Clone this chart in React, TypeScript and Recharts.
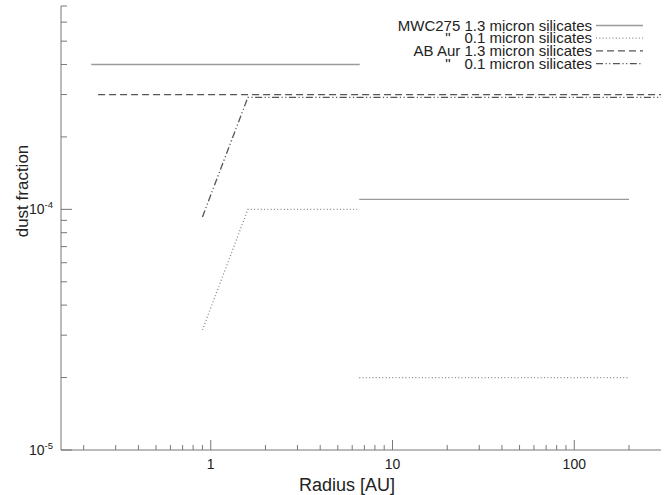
import React from 'react';
import { LineChart, Line, XAxis, YAxis } from 'recharts';

// MWC275, 1.3 micron silicates (two segments)
const mwcLargeSeg1X = [0.22, 6.6];
const mwcLargeSeg1Y = [4.0e-4, 4.0e-4];
const mwcLargeSeg2X = [6.56, 200];
const mwcLargeSeg2Y = [1.1e-4, 1.1e-4];

// MWC275, 0.1 micron silicates (two segments)
const mwcSmallSeg1X = [0.9, 1.6, 6.4];
const mwcSmallSeg1Y = [3.15e-5, 1.0e-4, 1.0e-4];
const mwcSmallSeg2X = [6.56, 200];
const mwcSmallSeg2Y = [2.0e-5, 2.0e-5];

// AB Aur, 1.3 micron silicates
const abLargeX = [0.24, 300];
const abLargeY = [3.0e-4, 3.0e-4];

// AB Aur, 0.1 micron silicates
const abSmallX = [0.9, 1.6, 300];
const abSmallY = [9.3e-5, 2.92e-4, 2.92e-4];

const xTicks = [0.2, 0.3, 0.4, 0.5, 0.6, 0.7, 0.8, 0.9, 1, 2, 3, 4, 5, 6, 7, 8, 9, 10, 20, 30, 40, 50, 60, 70, 80, 90, 100, 200];
const yTicks = [1e-5, 2e-5, 3e-5, 4e-5, 5e-5, 6e-5, 7e-5, 8e-5, 9e-5, 1e-4, 2e-4, 3e-4, 4e-4, 5e-4, 6e-4, 7e-4];

const legendLabels = ['MWC275 1.3 micron silicates', '0.1 micron silicates', 'AB Aur 1.3 micron silicates', '0.1 micron silicates'];
const legendDitto = [false, true, false, true];

const toPts = (xs: number[], ys: number[]) => xs.map((x, i) => ({ x, y: ys[i] }));
const withGap = (a: { x: number; y: number | null }[], b: { x: number; y: number | null }[]) => [
  ...a,
  { x: a[a.length - 1].x, y: null },
  ...b,
];

const mwcLarge = withGap(toPts(mwcLargeSeg1X, mwcLargeSeg1Y), toPts(mwcLargeSeg2X, mwcLargeSeg2Y));
const mwcSmall = withGap(toPts(mwcSmallSeg1X, mwcSmallSeg1Y), toPts(mwcSmallSeg2X, mwcSmallSeg2Y));
const abLarge = toPts(abLargeX, abLargeY);
const abSmall = toPts(abSmallX, abSmallY);

const FONT = '"Liberation Sans", Arial, Helvetica, sans-serif';
const AXIS = '#777';
const TEXT = '#222';

const styles = [
  { stroke: '#9a9a9a', dash: undefined as string | undefined, width: 1.3 },
  { stroke: '#8a8a8a', dash: '1 2.3', width: 1.3 },
  { stroke: '#555', dash: '7 4', width: 1.3 },
  { stroke: '#555', dash: '7 2.5 1.2 2.5 1.2 2.5', width: 1.3 },
];

const isMajor = (v: number) => Math.abs(Math.log10(v) - Math.round(Math.log10(v))) < 1e-6;

const BottomTick = (props: any) => {
  const { x, y, payload } = props;
  const v = payload.value;
  const major = isMajor(v);
  return (
    <g>
      <line x1={x} x2={x} y1={y} y2={y - (major ? 10 : 5)} stroke={AXIS} />
      {major && (
        <text x={x} y={y + 19} textAnchor="middle" fontSize={14} fill={TEXT} fontFamily={FONT}>
          {String(v)}
        </text>
      )}
    </g>
  );
};

const TopTick = (props: any) => {
  const { x, y, payload } = props;
  const major = isMajor(payload.value);
  return <line x1={x} x2={x} y1={y} y2={y + (major ? 10 : 5)} stroke={AXIS} />;
};

const LeftTick = (props: any) => {
  const { x, y, payload } = props;
  const v = payload.value;
  const major = isMajor(v);
  const exp = Math.round(Math.log10(v));
  return (
    <g>
      <line x1={x} x2={x + (major ? 11 : 6)} y1={y} y2={y} stroke={AXIS} />
      {major && (
        <text x={x - 8} y={y + 5} textAnchor="end" fontSize={14} fill={TEXT} fontFamily={FONT}>
          <tspan>10</tspan>
          <tspan dy={-6} fontSize={9.5}>{String(exp)}</tspan>
        </text>
      )}
    </g>
  );
};

const RightTick = (props: any) => {
  const { x, y, payload } = props;
  const major = isMajor(payload.value);
  return <line x1={x} x2={x - (major ? 11 : 6)} y1={y} y2={y} stroke={AXIS} />;
};

const Legend = () => (
  <svg width={320} height={70} style={{ position: 'absolute', left: 351, top: 14 }}>
    {legendLabels.map((lab, i) => {
      const cy = 11.5 + i * 12.7;
      const s = styles[i];
      return (
        <g key={i}>
          <text x={241} y={cy + 5} fontSize={15} fill={TEXT} fontFamily={FONT} textAnchor="end">
            {legendDitto[i] && <tspan>"</tspan>}
            <tspan dx={legendDitto[i] ? 14 : 0}>{lab}</tspan>
          </text>
          <line x1={245} x2={292} y1={cy} y2={cy} stroke={s.stroke} strokeWidth={s.width} strokeDasharray={s.dash} />
        </g>
      );
    })}
  </svg>
);

export default function App() {
  return (
    <div style={{ position: 'absolute', left: 0, top: 0, width: 671, height: 495, background: '#fff' }}>
      <LineChart width={671} height={495} margin={{ top: 6, right: 10, left: 0, bottom: 0 }}>
        <XAxis
          xAxisId="bottom"
          dataKey="x"
          type="number"
          scale="log"
          domain={[0.15, 300]}
          allowDataOverflow
          ticks={xTicks}
          interval={0}
          height={45}
          tickSize={0}
          tickMargin={0}
          tickLine={false}
          axisLine={{ stroke: AXIS }}
          tick={<BottomTick />}
          label={{ value: 'Radius [AU]', position: 'insideBottom', offset: 4, dx: -14, fontSize: 18, fill: TEXT, fontFamily: FONT }}
        />
        <XAxis
          xAxisId="top"
          orientation="top"
          dataKey="x"
          type="number"
          scale="log"
          domain={[0.15, 300]}
          allowDataOverflow
          ticks={xTicks}
          interval={0}
          height={0}
          tickSize={0}
          tickMargin={0}
          tickLine={false}
          axisLine={{ stroke: AXIS }}
          tick={<TopTick />}
        />
        <YAxis
          yAxisId="left"
          type="number"
          scale="log"
          domain={[1e-5, 7e-4]}
          allowDataOverflow
          ticks={yTicks}
          interval={0}
          width={61}
          tickSize={0}
          tickMargin={0}
          tickLine={false}
          axisLine={{ stroke: AXIS }}
          tick={<LeftTick />}
          label={{
            value: 'dust fraction',
            angle: -90,
            position: 'insideLeft',
            offset: 22,
            dy: -37,
            fontSize: 17,
            fill: TEXT,
            fontFamily: FONT,
            style: { textAnchor: 'middle' },
          }}
        />
        <YAxis
          yAxisId="right"
          orientation="right"
          type="number"
          scale="log"
          domain={[1e-5, 7e-4]}
          allowDataOverflow
          ticks={yTicks}
          interval={0}
          width={0}
          tickSize={0}
          tickMargin={0}
          tickLine={false}
          axisLine={{ stroke: AXIS }}
          tick={<RightTick />}
        />
        {[mwcLarge, mwcSmall, abLarge, abSmall].map((d, i) => (
          <Line
            key={i}
            data={d}
            xAxisId="bottom"
            yAxisId="left"
            dataKey="y"
            type="linear"
            stroke={styles[i].stroke}
            strokeWidth={styles[i].width}
            strokeDasharray={styles[i].dash}
            dot={false}
            activeDot={false}
            connectNulls={false}
            isAnimationActive={false}
          />
        ))}
      </LineChart>
      <Legend />
    </div>
  );
}
